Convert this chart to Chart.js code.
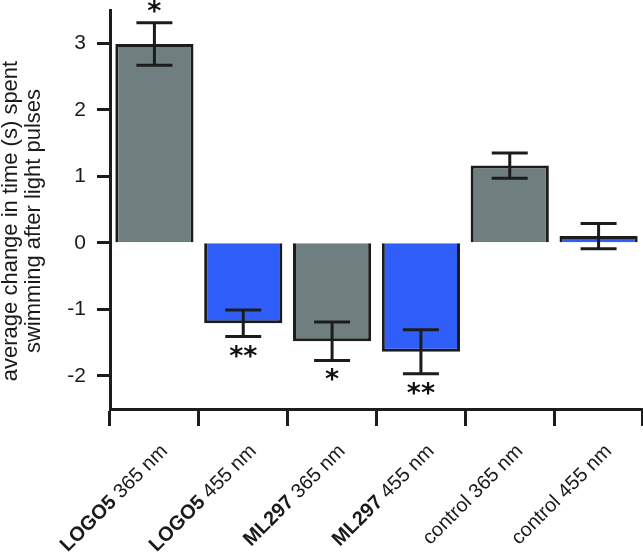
<!DOCTYPE html>
<html>
<head>
<meta charset="utf-8">
<script src="https://cdn.jsdelivr.net/npm/chart.js@4"></script>
<style>
  body { margin: 0; background: #fff; }
  #wrap { width: 643px; height: 554px; }
</style>
</head>
<body>
<div id="wrap"><canvas id="barChart"></canvas></div>
<script>
// data
const strains = ["LOGO5", "LOGO5", "ML297", "ML297", "control", "control"];
const strainBold = [true, true, true, true, false, false];
const wavelengths = ["365 nm", "455 nm", "365 nm", "455 nm", "365 nm", "455 nm"];
const meanChange = [2.99, -1.21, -1.48, -1.64, 1.16, 0.1];
const errors = [0.32, 0.2, 0.29, 0.33, 0.19, 0.19];
const stars = ["*", "**", "*", "**", "", ""];
const yTicks = [-2, -1, 0, 1, 2, 3];
const yTitle = ["average change in time (s) spent", "swimming after light pulses"];

const categories = strains.map((s, i) => s + " " + wavelengths[i]);

const GRAY = "#6f7f7f";
const BLUE = "#2f5ff8";
const INK = "#1c1c1c";

// error bars, stars, y title and the mixed bold x labels
const extras = {
  id: "extras",
  afterDatasetsDraw(chart) {
    const ctx = chart.ctx;
    const y = chart.scales.y;
    const bars = chart.getDatasetMeta(0).data;
    ctx.save();
    ctx.strokeStyle = INK;
    ctx.lineWidth = 3;
    bars.forEach((bar, i) => {
      const top = y.getPixelForValue(meanChange[i] + errors[i]);
      const bot = y.getPixelForValue(meanChange[i] - errors[i]);
      ctx.beginPath();
      ctx.moveTo(bar.x, top);
      ctx.lineTo(bar.x, bot);
      ctx.moveTo(bar.x - 18, top);
      ctx.lineTo(bar.x + 18, top);
      ctx.moveTo(bar.x - 18, bot);
      ctx.lineTo(bar.x + 18, bot);
      ctx.stroke();

      if (stars[i]) {
        ctx.fillStyle = "#111";
        ctx.font = "bold 27px 'DejaVu Sans'";
        ctx.textAlign = "center";
        ctx.textBaseline = "middle";
        const sy = meanChange[i] > 0 ? top - 14 : bot + 17;
        ctx.fillText(stars[i], bar.x, sy + 4);
      }
    });
    ctx.restore();
  },
  afterDraw(chart) {
    const ctx = chart.ctx;
    const x = chart.scales.x;
    ctx.save();
    ctx.fillStyle = "#1a1a1a";

    // y axis title, two lines
    ctx.translate(17, 221);
    ctx.rotate(-Math.PI / 2);
    ctx.font = "22px 'Liberation Sans'";
    ctx.textAlign = "center";
    ctx.textBaseline = "alphabetic";
    ctx.fillText(yTitle[0], 0, 0);
    ctx.fillText(yTitle[1], 0, 23);
    ctx.restore();

    // x labels rotated 45deg, strain name bold
    categories.forEach((c, i) => {
      const px = x.getPixelForTick(i);
      ctx.save();
      ctx.fillStyle = "#1a1a1a";
      ctx.translate(px + 14, 452);
      ctx.rotate(-Math.PI / 4);
      ctx.textAlign = "right";
      ctx.textBaseline = "alphabetic";
      ctx.font = "20px 'Liberation Sans'";
      const rest = " " + wavelengths[i];
      ctx.fillText(rest, 0, 0);
      const w = ctx.measureText(rest).width;
      ctx.font = (strainBold[i] ? "bold " : "") + "20px 'Liberation Sans'";
      ctx.fillText(strains[i], -w, 0);
      ctx.restore();
    });
  }
};

new Chart(document.getElementById("barChart"), {
  type: "bar",
  data: {
    labels: categories,
    datasets: [
      {
        data: meanChange,
        backgroundColor: strains.map((s, i) => (wavelengths[i] === "365 nm" ? GRAY : BLUE)),
        borderColor: INK,
        borderWidth: 3,
        barPercentage: 0.88,
        categoryPercentage: 1,
      },
    ],
  },
  options: {
    responsive: true,
    maintainAspectRatio: false,
    animation: false,
    layout: { padding: { top: 10, left: 0, right: 0, bottom: 0 } },
    plugins: {
      legend: { display: false },
      tooltip: { enabled: false },
    },
    scales: {
      x: {
        grid: {
          drawOnChartArea: false,
          tickLength: 17,
          tickWidth: 3,
          tickColor: INK,
        },
        border: { color: INK, width: 3 },
        ticks: { display: false },
        afterFit(scale) {
          scale.height = 145;
        },
      },
      y: {
        min: -2.5,
        max: 3.5,
        afterBuildTicks(scale) {
          scale.ticks = yTicks.map((v) => ({ value: v }));
        },
        afterFit(scale) {
          scale.width = 110;
          scale.paddingTop = 0;
          scale.paddingBottom = 0;
        },
        grid: {
          drawOnChartArea: false,
          tickLength: 13,
          tickWidth: 3,
          tickColor: INK,
        },
        border: { color: INK, width: 3 },
        ticks: {
          color: "#1a1a1a",
          padding: 11,
          font: { family: "'Liberation Sans'", size: 21 },
        },
      },
    },
  },
  plugins: [extras],
});
</script>
</body>
</html>
